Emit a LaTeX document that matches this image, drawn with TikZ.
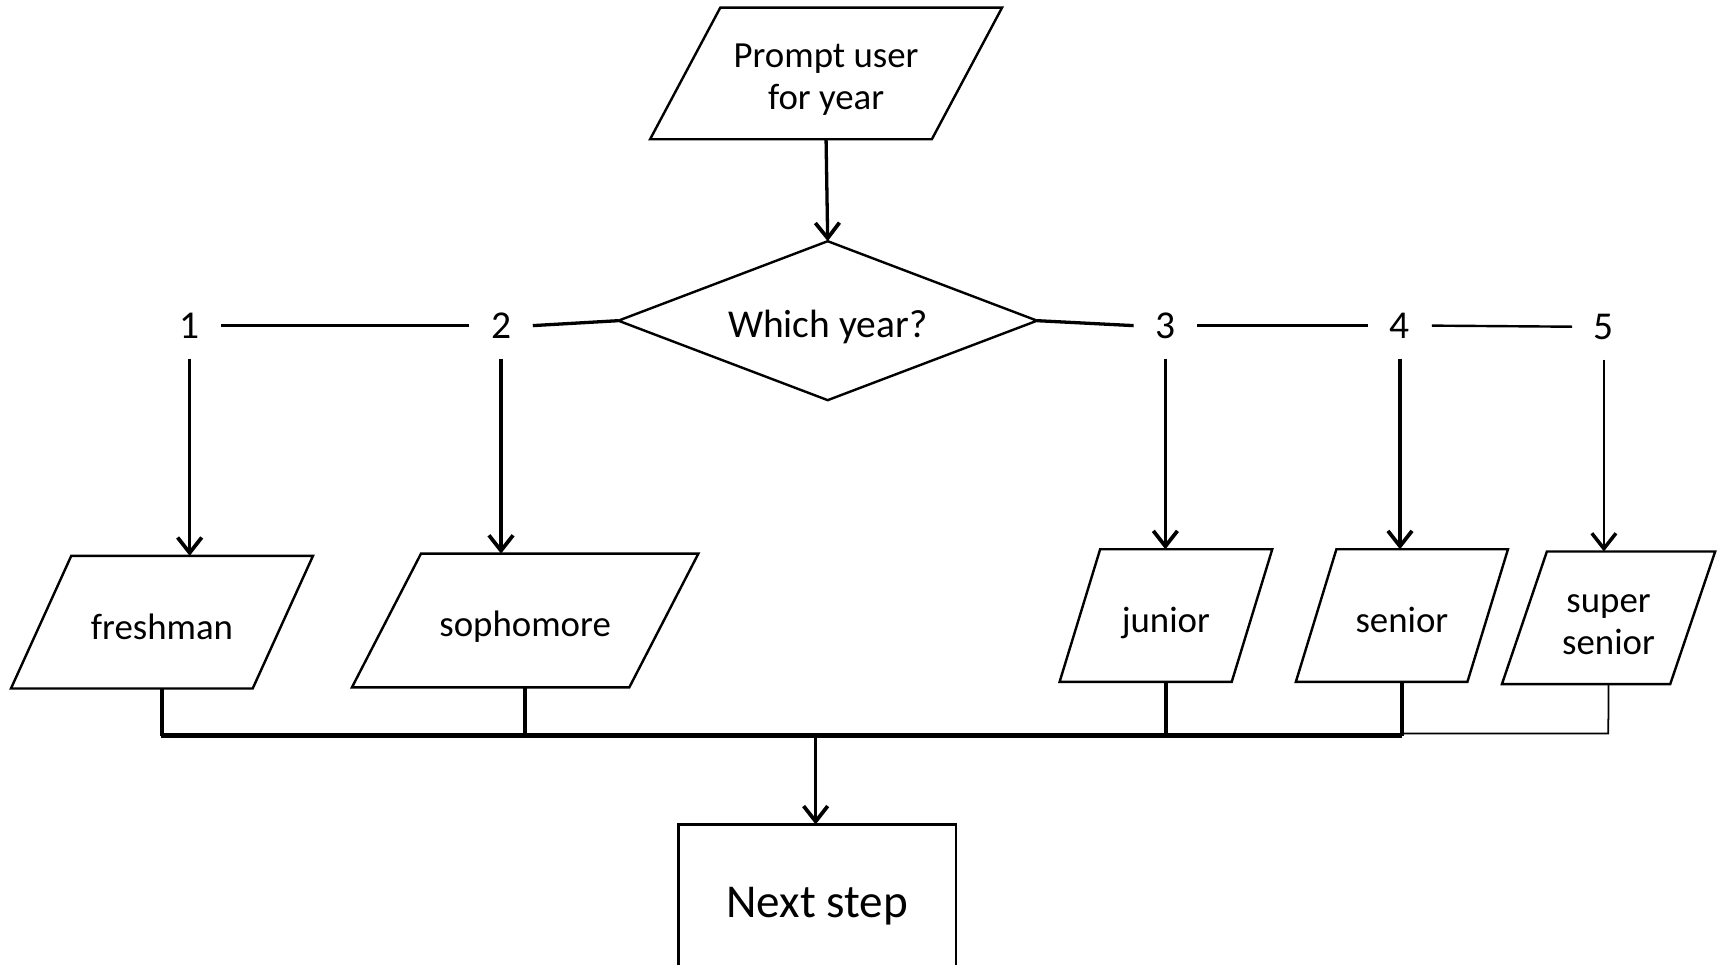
\documentclass[tikz,border=0pt]{standalone}
\usepackage{fontspec}
\setmainfont{Carlito}
\usetikzlibrary{arrows.meta,calc}
\newcommand\mypgram[2]{\draw[outline] ([xshift=-#2]#1.south west) -- ([xshift=#2]#1.north west) -- ([xshift=#2]#1.north east) -- ([xshift=-#2]#1.south east) -- cycle;}
\newcommand\mylift[2][3pt]{\raisebox{-#1}[\height][\depth]{\begin{tabular}{@{}c@{}}#2\end{tabular}}}
\begin{document}
\begin{tikzpicture}[x=0.5pt,y=-0.5pt,
  box/.style={draw=none,inner sep=0,outer sep=0,font=\fontsize{16.8}{19}\selectfont},
  num/.style={inner sep=0,outer sep=0,minimum width=29pt,minimum height=30pt,font=\fontsize{18}{20}\selectfont},
  outline/.style={line width=1.1pt,line join=miter},
  conn/.style={line width=1.5pt},
  arr/.style={conn,-{Straight Barb[length=7pt,width=11pt,line width=1.7pt]}},
  thinarr/.style={line width=0.9pt,-{Straight Barb[length=7pt,width=11pt,line width=1.6pt]}},
  thinline/.style={line width=0.8pt}]
\clip (0,0) rectangle (1568,880);
\fill[white] (0,0) rectangle (1568,880);
% nodes
\node[box,minimum width=128.5pt,minimum height=60pt] (pr) at (753.5,67) {\mylift{Prompt user\\for year}};
\node[box,minimum width=191pt,minimum height=72.5pt,font=\fontsize{18}{20}\selectfont] (dia) at (755,292.5) {\mylift[3.5pt]{Which year?}};
\node[num] (n1) at (173,297) {1};
\node[num] (n2) at (457,297) {2};
\node[num] (n3) at (1063,297) {3};
\node[num] (n4) at (1277,297) {4};
\node[num] (n5) at (1463,298) {5};
\node[box,minimum width=110.25pt,minimum height=60.5pt] (fr) at (147.75,567.5) {\mylift[4pt]{freshman}};
\node[box,minimum width=126.5pt,minimum height=61pt] (so) at (479,566) {\mylift[3.5pt]{sophomore}};
\node[box,minimum width=78.5pt,minimum height=60.5pt] (ju) at (1063.5,561.5) {\mylift[4pt]{junior}};
\node[box,minimum width=78.25pt,minimum height=60.5pt] (se) at (1278.75,561.5) {\mylift[4pt]{senior}};
\node[box,minimum width=76.75pt,minimum height=60.5pt] (ss) at (1467.25,563.5) {\mylift[3.5pt]{super\\senior}};
\node[box,minimum width=126.5pt,minimum height=70pt,font=\fontsize{21.5}{24}\selectfont] (nx) at (745.5,822) {\mylift[2.5pt]{Next step}};
% outlines
\mypgram{pr}{16pt}
\mypgram{fr}{13.75pt}
\mypgram{so}{15.75pt}
\mypgram{ju}{9.25pt}
\mypgram{se}{9.25pt}
\mypgram{ss}{10.25pt}
\draw[outline] (dia.north) -- (dia.east) -- (dia.south) -- (dia.west) -- cycle;
\draw[outline] (nx.south west) rectangle (nx.north east);
% connectors
\draw[arr] (pr.south) -- (dia.north);
\draw[conn] (n1.east) -- (n2.west);
\draw[conn] (n2.east) -- (dia.west);
\draw[conn] (dia.east) -- (n3.west);
\draw[conn] (n3.east) -- (n4.west);
\draw[line width=1.1pt] (n4.east) -- (n5.west);
\draw[arr] (n1.south) -- (n1.south |- fr.north);
\draw[arr] (n2.south) -- (n2.south |- so.north);
\draw[arr] (n3.south) -- (n3.south |- ju.north);
\draw[arr] (n4.south) -- (n4.south |- se.north);
\draw[thinarr] (n5.south) -- (n5.south |- ss.north);
\coordinate (busL) at (147,671);
\coordinate (busR) at (1279,671);
\coordinate (busM) at (744,671);
\coordinate (bus5) at (1467,669);
\draw[conn] (fr.south) -- (fr.south |- busL);
\draw[conn] (so.south) -- (so.south |- busL);
\draw[conn] (ju.south) -- (ju.south |- busL);
\draw[conn] (se.south) -- (se.south |- busR);
\draw[line width=2pt] (busL) -- (busR);
\draw[thinline] (ss.south) -- (bus5) -- (se.south |- bus5);
\draw[arr] (busM) -- (busM |- nx.north);
\end{tikzpicture}
\end{document}
